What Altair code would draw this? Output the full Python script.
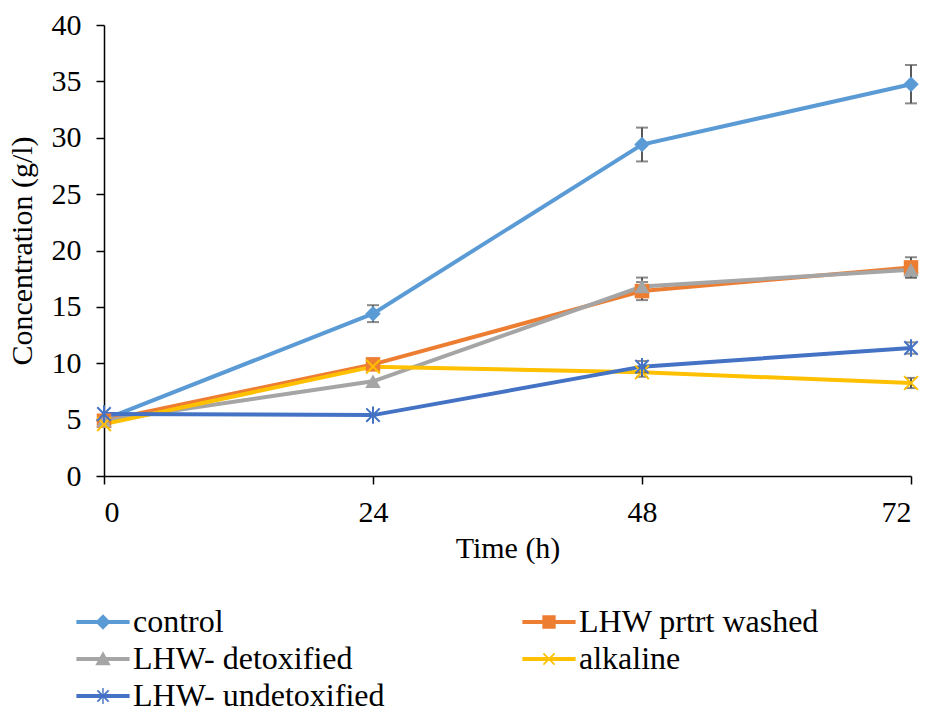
import altair as alt
import pandas as pd

# ---- data ----
time_h = [0, 24, 48, 72]
series_names = ["control", "LHW prtrt washed", "LHW- detoxified", "alkaline", "LHW- undetoxified"]
control = [5.0, 14.4, 29.4, 34.75]
washed = [4.9, 9.9, 16.4, 18.5]
detox = [4.9, 8.4, 16.8, 18.3]
alkaline = [4.6, 9.7, 9.2, 8.25]
undetox = [5.5, 5.4, 9.7, 11.35]

control_err = [0, 0.75, 1.5, 1.7]
washed_err = [0, 0, 0.8, 0.9]
detox_err = [0, 0, 0.8, 0.7]
alkaline_err = [0, 0, 0.4, 0.45]
undetox_err = [0, 0, 0.5, 0.5]

colors = ["#5B9BD5", "#ED7D31", "#A5A5A5", "#FFC000", "#4472C4"]

values = [control, washed, detox, alkaline, undetox]
errors = [control_err, washed_err, detox_err, alkaline_err, undetox_err]

rows = []
for name, vals, errs in zip(series_names, values, errors):
    for t, v, e in zip(time_h, vals, errs):
        rows.append({"time": t, "value": v, "series": name, "lo": v - e, "hi": v + e, "err": e})
df = pd.DataFrame(rows)

FONT = "Liberation Serif"

x_enc = alt.X("time:Q", scale=alt.Scale(domain=[0, 72], nice=False),
              axis=alt.Axis(values=[0, 24, 48, 72], title="Time (h)", labelPadding=13, titlePadding=6))
y_enc = alt.Y("value:Q", scale=alt.Scale(domain=[0, 40], nice=False),
              axis=alt.Axis(values=list(range(0, 41, 5)), title="Concentration (g/l)",
                            labelPadding=15, titlePadding=14))

# marker shapes for the plot
plot_shapes = [
    ("diamond", True, 240),
    ("square", True, 210),
    ("triangle-up", True, 240),
    ("M-1,-1L1,1M-1,1L1,-1", False, 190),
    ("M-1,-1L1,1M-1,1L1,-1M0,-1.3V1.3", False, 180),
]

# legend symbols: line segment + marker (all filled outlines, same winding)
L = "M-3.8,-0.28H3.8V0.28H-3.8Z"
XB = ("M-0.715,-0.885L0.885,0.715L0.715,0.885L-0.885,-0.715Z"
      "M-0.885,0.715L0.715,-0.885L0.885,-0.715L-0.715,0.885Z")
legend_shapes = [
    L + "M0,-1.1L1.1,0L0,1.1L-1.1,0Z",
    L + "M-0.95,-0.95H0.95V0.95H-0.95Z",
    L + "M0,-1.1L1.1,0.9H-1.1Z",
    L + XB,
    L + XB + "M-0.1,-1.15H0.1V1.15H-0.1Z",
]

base = alt.Chart(df)

line_layers = []
point_layers = []
for name, col, (shp, filled, size) in zip(series_names, colors, plot_shapes):
    sub = base.transform_filter(alt.datum.series == name)
    line_layers.append(
        sub.mark_line(color=col, strokeWidth=4).encode(x=x_enc, y=y_enc)
    )
    if filled:
        pm = sub.mark_point(shape=shp, filled=True, size=size, color=col, opacity=1)
    else:
        pm = sub.mark_point(shape=shp, filled=False, size=size, color=col, strokeWidth=2, opacity=1)
    point_layers.append(pm.encode(x=x_enc, y=y_enc))

err_layer = base.transform_filter(alt.datum.err > 0).mark_errorbar(
    ticks=alt.MarkConfig(size=12), thickness=2, color="#595959"
).encode(
    x=alt.X("time:Q"),
    y=alt.Y("lo:Q", title="Concentration (g/l)"),
    y2="hi:Q",
)

leg = alt.Legend(
    orient="none", legendX=-17, legendY=581, columns=2, direction="horizontal", title=None,
    labelFont=FONT, labelFontSize=32, labelColor="black",
    symbolSize=196, symbolStrokeWidth=0, symbolOpacity=1, labelOffset=14,
    columnPadding=137, rowPadding=5, padding=0, labelLimit=400,
)
# legend-only layer: no marks drawn (empty after filter), legend built from the explicit domain
legend_layer = base.transform_filter("false").mark_point(filled=True, size=196, opacity=1).encode(
    x=x_enc, y=y_enc,
    color=alt.Color("series:N", scale=alt.Scale(domain=series_names, range=colors), legend=leg),
    shape=alt.Shape("series:N", scale=alt.Scale(domain=series_names, range=legend_shapes), legend=leg),
)

chart = alt.layer(
    *line_layers, err_layer, *point_layers, legend_layer
).properties(
    width=807, height=451,
    padding={"left": 104, "top": 25, "right": 20, "bottom": 237},
    autosize="none",
).configure_view(stroke=None).configure_axis(
    labelFont=FONT, titleFont=FONT, labelFontSize=30, titleFontSize=30,
    labelColor="black", titleColor="black", titleFontWeight="normal",
    domainColor="black", domainWidth=1.5, tickColor="black", tickWidth=1.5, tickSize=8,
    grid=False,
)

chart.save("out.html", embed_options={"renderer": "svg", "actions": False})
